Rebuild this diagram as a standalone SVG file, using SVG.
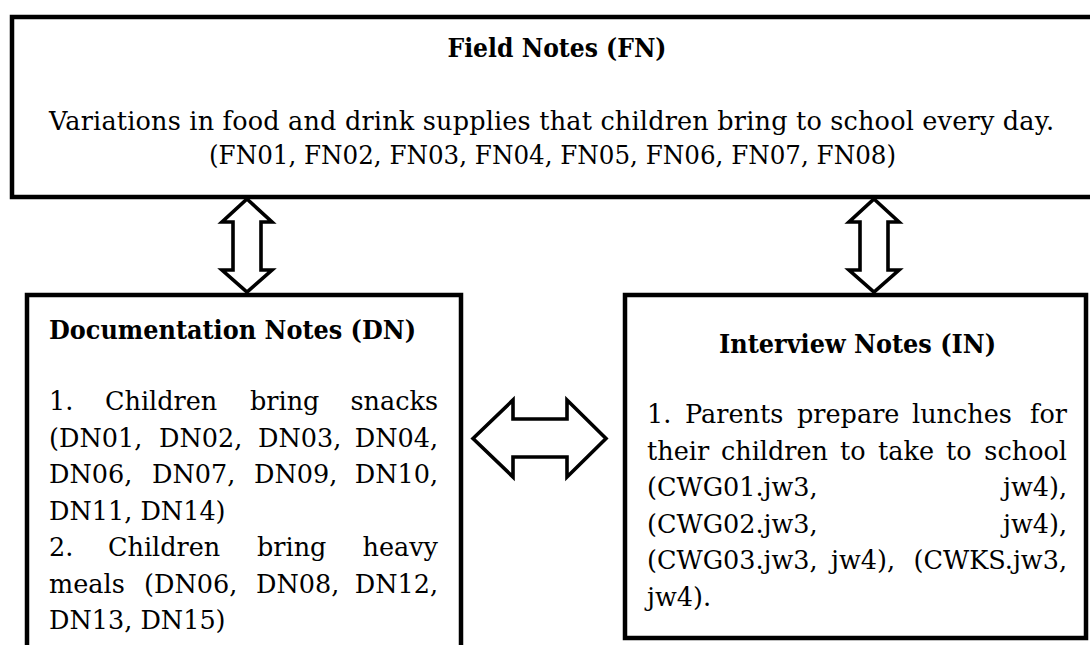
<svg xmlns="http://www.w3.org/2000/svg" width="1090" height="645" viewBox="0 0 1090 645">
<style>
.box{fill:#fff;stroke:#000;stroke-width:4.5}
.arr{fill:#fff;stroke:#000;stroke-width:3.6;stroke-linejoin:miter;stroke-miterlimit:10}
text{font-family:"DejaVu Serif","Liberation Serif",serif;font-size:25.5px;fill:#000}
.h{font-weight:bold}
.e{text-anchor:end}
</style>
<rect width="1090" height="645" fill="#fff"/>
<g id="connectors">
<polygon class="arr" points="247,199 272,222 261,222 261,270 272,270 247,292 222,270 233,270 233,222 222,222"/>
<polygon class="arr" points="874,199 899,222 888,222 888,270 899,270 874,292 849,270 860,270 860,222 849,222"/>
<polygon class="arr" points="473,438.5 513,400 513,419 567,419 567,400 606,438.5 567,477 567,457 513,457 513,477"/>
</g>
<g id="field-notes">
<rect class="box" x="12" y="17" width="1100" height="180"/>
<text class="h" x="557" y="57" text-anchor="middle" textLength="219" lengthAdjust="spacingAndGlyphs">Field Notes (FN)</text>
<text x="551.5" y="130" text-anchor="middle" textLength="1005" lengthAdjust="spacing">Variations in food and drink supplies that children bring to school every day.</text>
<text x="552.5" y="164" text-anchor="middle" textLength="687" lengthAdjust="spacingAndGlyphs">(FN01, FN02, FN03, FN04, FN05, FN06, FN07, FN08)</text>
</g>
<g id="documentation-notes">
<rect class="box" x="27" y="295" width="434" height="380"/>
<text class="h" x="49" y="339" textLength="367" lengthAdjust="spacingAndGlyphs">Documentation Notes (DN)</text>
<text y="410"><tspan x="49">1.</tspan> <tspan x="105">Children</tspan> <tspan x="250">bring</tspan> <tspan class="e" x="438">snacks</tspan></text>
<text y="446.5"><tspan x="49">(DN01,</tspan> <tspan x="159">DN02,</tspan> <tspan x="258">DN03,</tspan> <tspan class="e" x="438">DN04,</tspan></text>
<text y="483"><tspan x="49">DN06,</tspan> <tspan x="152">DN07,</tspan> <tspan x="254">DN09,</tspan> <tspan class="e" x="438">DN10,</tspan></text>
<text x="49" y="519.5">DN11, DN14)</text>
<text y="556"><tspan x="49">2.</tspan> <tspan x="108">Children</tspan> <tspan x="257">bring</tspan> <tspan class="e" x="438">heavy</tspan></text>
<text y="592.5"><tspan x="49">meals</tspan> <tspan x="144">(DN06,</tspan> <tspan x="256">DN08,</tspan> <tspan class="e" x="438">DN12,</tspan></text>
<text x="49" y="629">DN13, DN15)</text>
</g>
<g id="interview-notes">
<rect class="box" x="625" y="295" width="461" height="343"/>
<text class="h" x="857.5" y="353" text-anchor="middle" textLength="277" lengthAdjust="spacingAndGlyphs">Interview Notes (IN)</text>
<text y="423"><tspan x="647">1.</tspan> <tspan x="685">Parents</tspan> <tspan x="797">prepare</tspan> <tspan x="912">lunches</tspan> <tspan class="e" x="1067">for</tspan></text>
<text y="459.5"><tspan x="647">their</tspan> <tspan x="721">children</tspan> <tspan x="840">to</tspan> <tspan x="878">take</tspan> <tspan x="946">to</tspan> <tspan class="e" x="1067">school</tspan></text>
<text y="496"><tspan x="647">(CWG01.jw3,</tspan> <tspan class="e" x="1067">jw4),</tspan></text>
<text y="532.5"><tspan x="647">(CWG02.jw3,</tspan> <tspan class="e" x="1067">jw4),</tspan></text>
<text y="569"><tspan x="647">(CWG03.jw3,</tspan> <tspan x="831">jw4),</tspan> <tspan class="e" x="1067">(CWKS.jw3,</tspan></text>
<text x="647" y="605.5">jw4).</text>
</g>
</svg>
